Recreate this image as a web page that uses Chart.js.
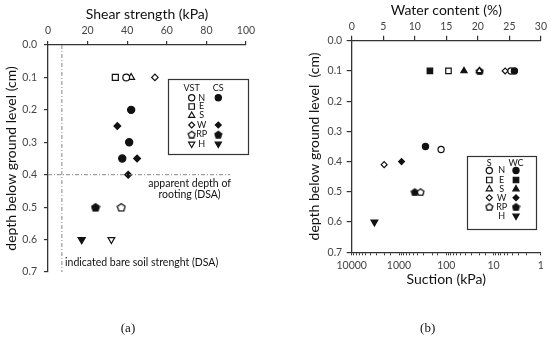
<!DOCTYPE html>
<html>
<head>
<meta charset="utf-8">
<script src="https://cdn.jsdelivr.net/npm/chart.js@4.4.0/dist/chart.umd.min.js"></script>
<style>
  body { margin: 0; background: #fff; }
  canvas { position: absolute; top: 0; }
  #shearChart { left: 0; }
  #suctionChart { left: 275px; }
</style>
</head>
<body>
<canvas id="shearChart" width="275" height="338"></canvas>
<canvas id="suctionChart" width="275" height="338"></canvas>
<script>
// (a) shear strength (kPa) vs depth (cm) — [strength, depth]
const vstN = [[39.5, 0.1]];
const vstE = [[34, 0.1]];
const vstS = [[42, 0.1]];
const vstW = [[54, 0.1]];
const vstRP = [[37, 0.5]];
const vstH = [[32, 0.6]];
const csN = [[42, 0.2], [41, 0.3], [37.5, 0.35]];
const csW = [[35, 0.25], [45, 0.35], [40.5, 0.4]];
const csRP = [[24, 0.5]];
const csH = [[17, 0.6]];
const bareSoilStrength = 7;
const rootingDepth = 0.4;
const rootingLineEnd = 92;

// (b) water content (%) and suction (kPa) vs depth — [value, depth]
const wcN = [[25.8, 0.1], [11.7, 0.35]];
const wcE = [[12.4, 0.1]];
const wcS = [[17.8, 0.1]];
const wcW = [[7.9, 0.4]];
const wcRP = [[20.3, 0.1], [10.0, 0.5]];
const wcH = [[3.6, 0.6]];
const suctionN = [[4.3, 0.1], [129, 0.36]];
const suctionE = [[90, 0.1]];
const suctionS = [[20, 0.1]];
const suctionW = [[5.7, 0.1], [2060, 0.41]];
const suctionRP = [[350, 0.5]];

// axis ticks
const shearTicks = [0, 20, 40, 60, 80, 100];
const waterTicks = [0, 5, 10, 15, 20, 25, 30];
const suctionLabels = [10000, 1000, 100, 10, 1];
const depthTicks = [0, 0.1, 0.2, 0.3, 0.4, 0.5, 0.6, 0.7];
const sites = ['N', 'E', 'S', 'W', 'RP', 'H'];

const FONT = 'Lato, "Noto Sans", sans-serif';
const INK = '#111';
const TICK = '#444';

function pentagon(size, filled) {
  const c = document.createElement('canvas');
  c.width = c.height = size;
  const g = c.getContext('2d');
  const r = size / 2 - 0.9;
  g.beginPath();
  for (let i = 0; i < 5; i++) {
    const a = -Math.PI / 2 + i * 2 * Math.PI / 5;
    const px = size / 2 + r * Math.cos(a), py = size / 2 + 0.6 + r * Math.sin(a);
    i ? g.lineTo(px, py) : g.moveTo(px, py);
  }
  g.closePath();
  g.fillStyle = filled ? INK : '#fff';
  g.fill();
  g.lineWidth = 1.3;
  g.strokeStyle = INK;
  g.stroke();
  return c;
}

function marker(site, filled, r) {
  const m = { N: ['circle', 0, 1], E: ['rect', 0, 1.25], S: ['triangle', 0, 1.15], W: ['rectRot', 0, 0.95], H: ['triangle', 180, 1.15] }[site];
  if (site === 'RP') return { pointStyle: pentagon(Math.round(r * 2.9), filled), rotation: 0, radius: r };
  return { pointStyle: m[0], rotation: m[1], radius: r * m[2] };
}

function series(label, pts, site, filled, r, xAxis) {
  const m = marker(site, filled, r);
  return {
    label: label,
    data: pts.map(p => ({ x: p[0], y: p[1] })),
    xAxisID: xAxis,
    pointStyle: m.pointStyle,
    rotation: m.rotation,
    pointRadius: m.radius,
    backgroundColor: filled ? INK : '#fff',
    borderColor: INK,
    borderWidth: 1.2
  };
}

function guide(pts, xAxis) {
  return {
    type: 'line',
    data: pts,
    xAxisID: xAxis,
    showLine: true,
    pointRadius: 0,
    borderColor: '#888',
    borderWidth: 1,
    borderDash: [4, 2, 1, 2]
  };
}

function axisStyle(extra) {
  return Object.assign({
    grid: { drawOnChartArea: false, drawTicks: true, tickLength: 4, color: '#333', lineWidth: 1.2 },
    border: { display: true, color: '#333', width: 1.3 }
  }, extra);
}

function drawLegend(ctx, box, cols, rows, headerY, entries) {
  ctx.save();
  ctx.strokeStyle = '#333';
  ctx.lineWidth = 1.2;
  ctx.strokeRect(box[0], box[1], box[2], box[3]);
  ctx.fillStyle = INK;
  ctx.font = '9px ' + FONT;
  ctx.textAlign = 'center';
  ctx.textBaseline = 'middle';
  ctx.fillText(cols.openTitle, cols.open, headerY);
  ctx.fillText(cols.fillTitle, cols.fill, headerY);
  sites.forEach((s, i) => {
    ctx.fillStyle = INK;
    ctx.fillText(s, cols.label, rows[i]);
    const e = entries[i];
    [[e[0], false, cols.open], [e[1], true, cols.fill]].forEach(([show, filled, x]) => {
      if (!show) return;
      const m = marker(s, filled, 3.1);
      ctx.fillStyle = filled ? INK : '#fff';
      ctx.strokeStyle = INK;
      ctx.lineWidth = 1.2;
      Chart.helpers.drawPoint(ctx, { pointStyle: m.pointStyle, rotation: m.rotation, radius: m.radius, borderWidth: 1.2 }, x, rows[i]);
    });
  });
  ctx.restore();
}

function panelLabel(ctx, text, x, y) {
  ctx.save();
  ctx.fillStyle = INK;
  ctx.font = '13px "Liberation Serif", serif';
  ctx.textAlign = 'center';
  ctx.textBaseline = 'middle';
  ctx.fillText(text, x, y);
  ctx.restore();
}

// ---------- (a) ----------
const shearDecor = {
  id: 'shearDecor',
  afterDraw(chart) {
    const ctx = chart.ctx, x = chart.scales.x, y = chart.scales.y;
    ctx.save();
    ctx.fillStyle = INK;
    ctx.font = '10.5px ' + FONT;
    ctx.textBaseline = 'middle';
    ctx.textAlign = 'center';
    ctx.fillText('apparent depth of', x.getPixelForValue(71.5), y.getPixelForValue(0.426));
    ctx.fillText('rooting (DSA)', x.getPixelForValue(71.5), y.getPixelForValue(0.46));
    ctx.textAlign = 'left';
    ctx.fillText('indicated bare soil strenght (DSA)', x.getPixelForValue(8.6), y.getPixelForValue(0.672));
    ctx.restore();
    drawLegend(ctx, [168.5, 79.5, 80, 75],
      { open: 191.7, label: 201.7, fill: 218.3, openTitle: 'VST', fillTitle: 'CS' },
      [97.7, 106.5, 115.5, 125, 134.3, 144], 88,
      [[1, 1], [1, 0], [1, 0], [1, 1], [1, 1], [1, 1]]);
    panelLabel(ctx, '(a)', 128, 329);
  }
};

new Chart(document.getElementById('shearChart'), {
  type: 'scatter',
  data: {
    datasets: [
      guide([{ x: bareSoilStrength, y: 0 }, { x: bareSoilStrength, y: 0.7 }], 'x'),
      guide([{ x: 0, y: rootingDepth }, { x: rootingLineEnd, y: rootingDepth }], 'x'),
      series('VST N', vstN, 'N', false, 3.4, 'x'),
      series('VST E', vstE, 'E', false, 3.4, 'x'),
      series('VST S', vstS, 'S', false, 3.4, 'x'),
      series('VST W', vstW, 'W', false, 3.4, 'x'),
      series('VST RP', vstRP, 'RP', false, 3.4, 'x'),
      series('VST H', vstH, 'H', false, 3.4, 'x'),
      series('CS N', csN, 'N', true, 3.6, 'x'),
      series('CS W', csW, 'W', true, 3.6, 'x'),
      series('CS RP', csRP, 'RP', true, 3.6, 'x'),
      series('CS H', csH, 'H', true, 3.6, 'x')
    ]
  },
  options: {
    responsive: false,
    animation: false,
    layout: { padding: { left: 0, top: 0, right: 29, bottom: 66 } },
    plugins: { legend: { display: false }, tooltip: { enabled: false } },
    scales: {
      x: axisStyle({
        type: 'linear', position: 'top', min: 0, max: 100,
        afterBuildTicks: s => { s.ticks = shearTicks.map(v => ({ value: v })); },
        ticks: { color: TICK, font: { size: 10.5, family: FONT }, padding: 4, maxRotation: 0 },
        title: { display: true, text: 'Shear strength (kPa)', color: INK, font: { size: 14, family: FONT }, padding: { top: 6, bottom: 0 } },
        afterFit: s => { s.height = 45; }
      }),
      y: axisStyle({
        type: 'linear', reverse: true, min: 0, max: 0.7,
        afterBuildTicks: s => { s.ticks = depthTicks.map(v => ({ value: v })); },
        ticks: { color: TICK, font: { size: 10.5, family: FONT }, padding: 7, callback: v => v.toFixed(1) },
        title: { display: true, text: 'depth below ground level (cm)', color: INK, font: { size: 14, family: FONT }, padding: { top: 3.5, bottom: 0 } },
        afterFit: s => { s.width = 48; }
      })
    }
  },
  plugins: [shearDecor]
});

// ---------- (b) ----------
const suctionDecor = {
  id: 'suctionDecor',
  afterDraw(chart) {
    const ctx = chart.ctx;
    drawLegend(ctx, [192.5, 156.5, 69, 73],
      { open: 214.3, label: 226.7, fill: 241, openTitle: 'S', fillTitle: 'WC' },
      [170.5, 180, 189, 197.7, 206.7, 216], 163,
      [[1, 1], [1, 1], [1, 1], [1, 1], [1, 1], [0, 1]]);
    panelLabel(ctx, '(b)', 152.7, 329);
  }
};

// earlier datasets are painted on top
new Chart(document.getElementById('suctionChart'), {
  type: 'scatter',
  data: {
    datasets: [
      series('WC E', wcE, 'E', true, 3.1, 'x'),
      series('S E', suctionE, 'E', false, 3.1, 'x2'),
      series('WC S', wcS, 'S', true, 3.1, 'x'),
      series('S S', suctionS, 'S', false, 3.1, 'x2'),
      series('WC N', wcN, 'N', true, 3.1, 'x'),
      series('S N', suctionN, 'N', false, 3.1, 'x2'),
      series('S W', suctionW, 'W', false, 3.1, 'x2'),
      series('S RP', suctionRP, 'RP', false, 3.1, 'x2'),
      series('WC RP', wcRP, 'RP', true, 3.1, 'x'),
      series('WC W', wcW, 'W', true, 3.1, 'x'),
      series('WC H', wcH, 'H', true, 3.4, 'x')
    ]
  },
  options: {
    responsive: false,
    animation: false,
    layout: { padding: { left: 0, top: 0, right: 8.3, bottom: 45.7 } },
    plugins: { legend: { display: false }, tooltip: { enabled: false } },
    scales: {
      x: axisStyle({
        type: 'linear', position: 'top', min: 0, max: 30,
        afterBuildTicks: s => { s.ticks = waterTicks.map(v => ({ value: v })); },
        ticks: { color: TICK, font: { size: 10.5, family: FONT }, padding: 3, maxRotation: 0 },
        grid: { drawOnChartArea: false, tickLength: 5, color: '#333', lineWidth: 1.2 },
        title: { display: true, text: 'Water content (%)', color: INK, font: { size: 14, family: FONT }, padding: { top: 2.5, bottom: 0 } },
        afterFit: s => { s.height = 40.7; }
      }),
      x2: axisStyle({
        type: 'logarithmic', position: 'bottom', min: 1, max: 10000, reverse: true,
        ticks: { color: TICK, font: { size: 10.5, family: FONT }, padding: 4, autoSkip: false, maxRotation: 0,
          callback: v => suctionLabels.includes(v) ? String(v) : '' },
        grid: { drawOnChartArea: false, tickLength: 3, color: '#333', lineWidth: 1 },
        title: { display: true, text: 'Suction (kPa)', color: INK, font: { size: 14, family: FONT }, padding: { top: 0, bottom: 4 } },
        afterFit: s => { s.height = 40; }
      }),
      y: axisStyle({
        type: 'linear', reverse: true, min: 0, max: 0.7,
        afterBuildTicks: s => { s.ticks = depthTicks.map(v => ({ value: v })); },
        ticks: { color: TICK, font: { size: 10.5, family: FONT }, padding: 4.5, callback: v => v.toFixed(1) },
        grid: { drawOnChartArea: false, tickLength: 5, color: '#333', lineWidth: 1.2 },
        title: { display: true, text: 'depth below ground level  (cm)', color: INK, font: { size: 14, family: FONT }, padding: { top: 31.5, bottom: 0 } },
        afterFit: s => { s.width = 76.7; }
      })
    }
  },
  plugins: [suctionDecor]
});
</script>
</body>
</html>
